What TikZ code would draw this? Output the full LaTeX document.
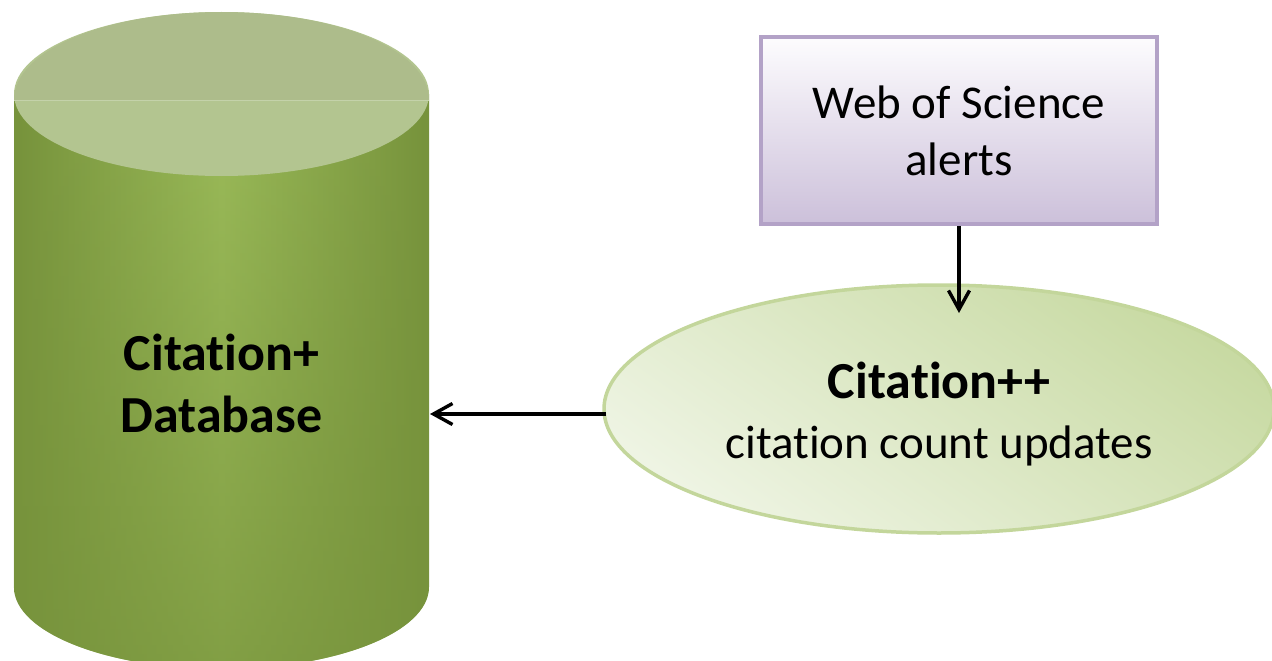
\documentclass[tikz,border=0pt]{standalone}
\usepackage{fontspec}
\setmainfont{Carlito}[Ligatures={NoCommon,NoContextual,NoRare},Contextuals={NoAlternate}]
\usetikzlibrary{shapes.geometric,arrows.meta,fadings}
\newcommand\brkti{t\kern0pt i}
\definecolor{cylDark}{HTML}{77933C}
\definecolor{cylLight}{HTML}{9BBB59}
\definecolor{topA}{HTML}{ADBC8B}
\definecolor{topB}{HTML}{B3C590}
\definecolor{topLine}{HTML}{C4D2AA}
\definecolor{wosTop}{HTML}{FDFCFE}
\definecolor{wosBot}{HTML}{CCC0DA}
\definecolor{wosBorder}{HTML}{B3A2C7}
\definecolor{ellDark}{HTML}{C8DAA3}
\definecolor{ellLight}{HTML}{EEF4E3}
\definecolor{ellBorder}{HTML}{C3D69B}
\tikzfading[name=cylfade, top color=transparent!100, middle color=transparent!100, bottom color=transparent!30]
\tikzset{
  arr/.style={line width=3.4pt, -{Straight Barb[length=19pt,width=21pt,line width=3.4pt]}},
  wosbox/.style={rectangle, draw=wosBorder, line width=3.5pt, top color=wosTop, bottom color=wosBot,
    minimum width=396pt, minimum height=187pt, align=center, inner sep=0pt},
  updell/.style={ellipse, draw=ellBorder, line width=3.5pt, shading=axis, top color=ellDark, bottom color=ellLight,
    shading angle=-35, minimum width=670pt, minimum height=248pt, align=center, inner sep=0pt},
  cyltext/.style={align=center, inner sep=0pt, font=\bfseries\fontsize{52}{62}\selectfont}
}
\begin{document}
\begin{tikzpicture}[x=1pt,y=-1pt]
\useasboundingbox (0,0) rectangle (1272,661);
% cylinder body
\path[left color=cylDark, right color=cylDark, middle color=cylLight]
  (14,94) -- (14,587) .. controls (14,632.3) and (106.9,669) .. (221.5,669)
  .. controls (336.1,669) and (429,632.3) .. (429,587) -- (429,94) -- cycle;
\path[fill=cylDark, path fading=cylfade]
  (14,94) -- (14,587) .. controls (14,632.3) and (106.9,669) .. (221.5,669)
  .. controls (336.1,669) and (429,632.3) .. (429,587) -- (429,94) -- cycle;
% cylinder top
\fill[topB] (221.5,94) ellipse [x radius=207.5, y radius=82];
\fill[topA] (14,100) .. controls (14,49.7) and (106.9,12) .. (221.5,12)
  .. controls (336.1,12) and (429,49.7) .. (429,100) -- cycle;
\draw[topLine, line width=1pt] (14,100) -- (429,100);
\node[cyltext] (db) at (221.5,383) {Cita\brkti on+\\Database};
\coordinate (dbR) at (430,414);
% Web of Science box
\node[wosbox, font=\fontsize{47}{57}\selectfont] (wos) at (959,130.5) {Web of Science\\alerts};
% Citation++ ellipse
\node[updell, font=\fontsize{47}{60}\selectfont] (upd) at (939,409) {{\bfseries\fontsize{52}{60}\selectfont\rule{0pt}{46pt}Cita\brkti on++}\\cita\brkti on count updates};
\coordinate (tipA) at (959,313);
\coordinate (updW) at (606,414);
\draw[arr] (wos.south) -- (tipA);
\draw[arr] (updW) -- (dbR);
\end{tikzpicture}
\end{document}
